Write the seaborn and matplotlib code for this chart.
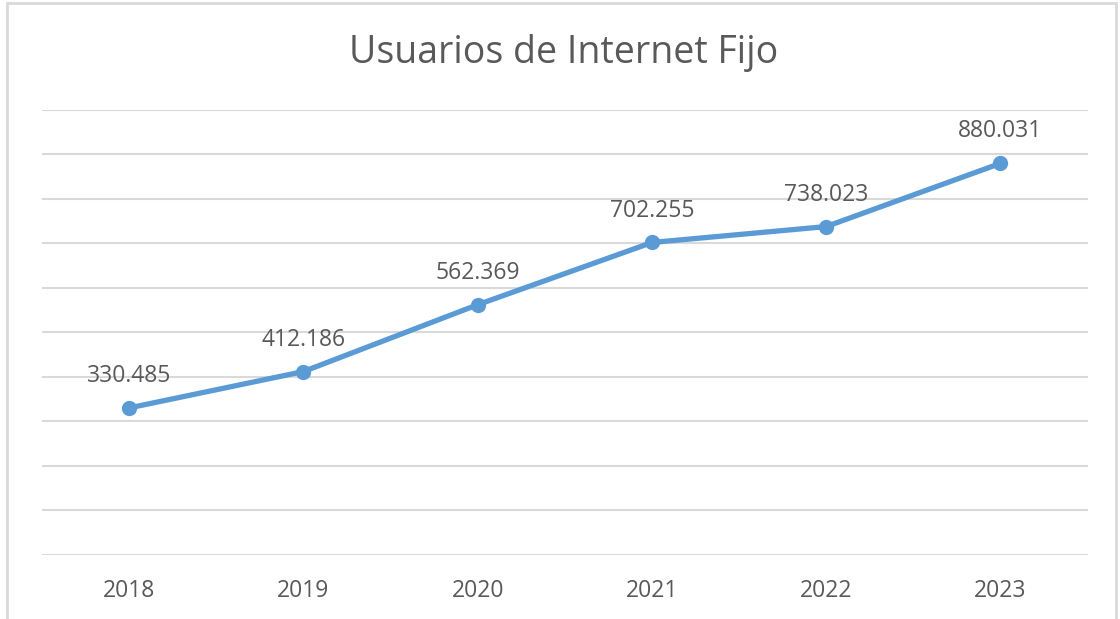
import numpy as np
import pandas as pd
import matplotlib.pyplot as plt
import seaborn as sns
from matplotlib.patches import Rectangle

years = ['2018', '2019', '2020', '2021', '2022', '2023']
usuarios = [330.485, 412.186, 562.369, 702.255, 738.023, 880.031]
etiquetas = ['330.485', '412.186', '562.369', '702.255', '738.023', '880.031']

sns.set_theme(style='white')
plt.rcParams['font.family'] = ['Open Sans', 'DejaVu Sans']

df = pd.DataFrame({'year': years, 'usuarios': usuarios})

fig = plt.figure(figsize=(11.2, 6.19), dpi=100)
ax = fig.add_axes([0.0375, 0.1034, 0.9335, 0.7189])

sns.lineplot(data=df, x='year', y='usuarios', ax=ax, color='#5B9BD5',
             linewidth=3.8, marker='o', markersize=11, markeredgewidth=0,
             sort=False, zorder=3)

for i, (v, t) in enumerate(zip(usuarios, etiquetas)):
    ax.annotate(t, (i, v), xytext=(0, 23), textcoords='offset points',
                ha='center', va='center', fontsize=16.5, color='#595959')

ax.set_xlim(-0.5, len(years) - 0.5)
ax.set_ylim(0, 1000)
ax.set_yticks(np.arange(0, 1001, 100))
ax.yaxis.grid(True, color='#d9d9d9', linewidth=1.5)
ax.set_yticklabels([])
ax.tick_params(axis='y', length=0)
ax.tick_params(axis='x', length=0, labelsize=16.5, labelcolor='#595959', pad=17)
ax.set_xlabel('')
ax.set_ylabel('')
for s in ax.spines.values():
    s.set_visible(False)

fig.text(0.503, 0.915, 'Usuarios de Internet Fijo', ha='center', va='center',
         fontsize=27, color='#595959')

# chart border
fig.add_artist(Rectangle((7 / 1120, -0.05), 1109 / 1120, 1 - 3 / 619 + 0.05,
                         transform=fig.transFigure, fill=False,
                         edgecolor='#d9d9d9', linewidth=2))

fig.savefig('out.png', dpi=100)
